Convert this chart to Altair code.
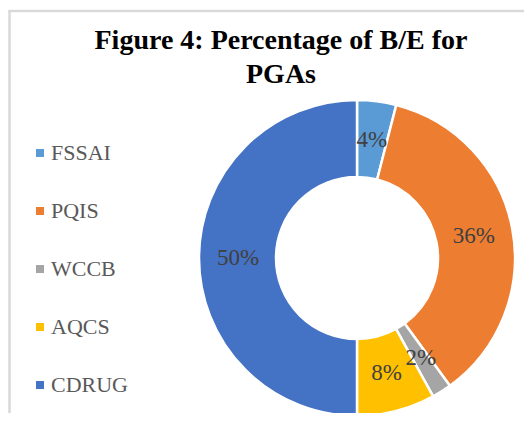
import altair as alt
import pandas as pd

categories = ["FSSAI", "PQIS", "WCCB", "AQCS", "CDRUG"]
values = [4, 36, 2, 8, 50]
colors = ["#5B9BD5", "#ED7D31", "#A5A5A5", "#FFC000", "#4472C4"]
title_lines = "Figure 4: Percentage of B/E for\nPGAs"

df = pd.DataFrame({
    "agency": categories,
    "value": values,
    "order": list(range(len(categories))),
    "label": [f"{v}%" for v in values],
})

CX, CY = 349, 250
SERIF = "Liberation Serif"

base = alt.Chart(df).encode(
    theta=alt.Theta("value:Q", stack=True),
    order=alt.Order("order:Q"),
    x=alt.value(CX),
    y=alt.value(CY),
)

arcs = base.mark_arc(innerRadius=81, outerRadius=158, stroke="white", strokeWidth=2.5).encode(
    color=alt.Color(
        "agency:N",
        scale=alt.Scale(domain=categories, range=colors),
        sort=categories,
        legend=alt.Legend(
            title=None,
            orient="none",
            legendX=21,
            legendY=134,
            symbolType="square",
            symbolSize=64,
            symbolStrokeWidth=0,
            labelFont=SERIF,
            labelFontSize=22,
            labelColor="#595959",
            labelOffset=0,
            rowPadding=36,
            padding=0,
        ),
    )
)

labels = base.mark_text(radius=119, font=SERIF, fontSize=23, color="#404040",
                        align="center", baseline="middle").encode(
    text="label:N"
)

one = pd.DataFrame({"k": [0]})

title = alt.Chart(one).mark_text(
    font=SERIF, fontSize=28, fontWeight="bold", color="#000000",
    align="center", baseline="alphabetic", lineBreak="\n", lineHeight=34,
).encode(x=alt.value(273), y=alt.value(41), text=alt.value(title_lines))

left_border = alt.Chart(one).mark_rule(color="#D9D9D9", strokeWidth=2.5).encode(
    x=alt.value(1.5), y=alt.value(2), y2=alt.value(413)
)
top_border = alt.Chart(one).mark_rule(color="#D9D9D9", strokeWidth=2.5).encode(
    x=alt.value(0.5), x2=alt.value(524), y=alt.value(3)
)

chart = alt.layer(left_border, top_border, arcs, labels, title).properties(
    width=516,
    height=405,
    autosize=alt.AutoSizeParams(type="none"),
    padding=0,
    background="white",
).configure_view(stroke=None)

chart.save("out.html", embed_options={"renderer": "svg", "actions": False})
